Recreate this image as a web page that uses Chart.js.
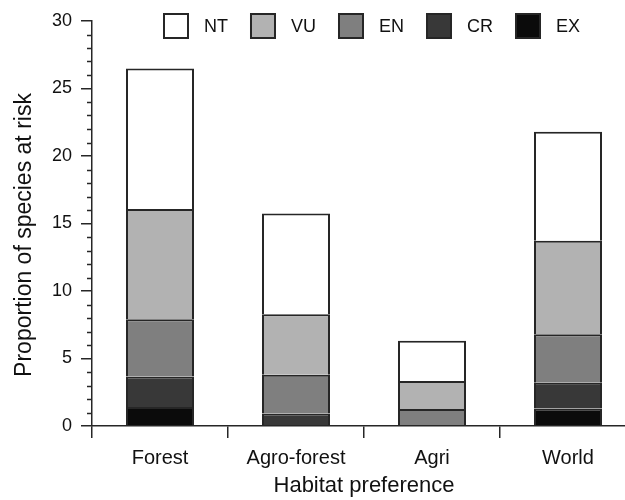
<!DOCTYPE html>
<html>
<head>
<meta charset="utf-8">
<script src="https://cdn.jsdelivr.net/npm/chart.js@4.4.1/dist/chart.umd.min.js"></script>
<style>
  html, body { margin: 0; padding: 0; background: #fff; overflow: hidden; }
  #wrap { width: 640px; height: 500px; }
</style>
</head>
<body>
<div id="wrap"><canvas id="chart" width="640" height="500"></canvas></div>
<script>
// values (segment heights, bottom to top)
const categories = ['Forest', 'Agro-forest', 'Agri', 'World'];
const exValues = [1.40, 0, 0, 1.30];
const crValues = [2.27, 0.93, 0, 1.90];
const enValues = [4.24, 2.87, 1.26, 3.60];
const vuValues = [8.16, 4.48, 2.07, 6.93];
const ntValues = [10.41, 7.47, 2.98, 8.06];
const yTicks = [0, 5, 10, 15, 20, 25, 30];

const edge = '#262626';
const font = 'Arial, "Liberation Sans", Helvetica, sans-serif';

// no bottom border: the segment below (or the axis) supplies that line
const mkSet = (label, data, color) => ({
    label, data, backgroundColor: color, borderColor: edge,
    borderWidth: { top: 2, left: 2, right: 2, bottom: 0 }, borderSkipped: false
});

// legend across the top + minor ticks + rotated y title
const extras = {
    id: 'extras',
    afterDraw(chart) {
        const ctx = chart.ctx;
        const y = chart.scales.y;
        ctx.save();

        // minor ticks every 1
        ctx.strokeStyle = edge;
        ctx.lineWidth = 1.5;
        for (let v = 0; v <= 30; v++) {
            if (v % 5 === 0) continue;
            const py = Math.round(y.getPixelForValue(v)) + 0.5;
            ctx.beginPath();
            ctx.moveTo(y.right - 5, py);
            ctx.lineTo(y.right, py);
            ctx.stroke();
        }

        // legend, NT first
        ctx.font = '18px ' + font;
        ctx.textBaseline = 'middle';
        ctx.textAlign = 'left';
        let x = 164;
        const cy = 26;
        chart.data.datasets.slice().reverse().forEach(ds => {
            ctx.fillStyle = ds.backgroundColor;
            ctx.fillRect(x, cy - 12, 24, 24);
            ctx.lineWidth = 2;
            ctx.strokeStyle = edge;
            ctx.strokeRect(x, cy - 12, 24, 24);
            ctx.fillStyle = '#111';
            ctx.fillText(ds.label, x + 40, cy + 1);
            x += 40 + ctx.measureText(ds.label).width + 23;
        });

        // y axis title
        ctx.translate(25, 235);
        ctx.rotate(-Math.PI / 2);
        ctx.textAlign = 'center';
        ctx.font = '23px ' + font;
        ctx.fillText('Proportion of species at risk', 0, 0);
        ctx.restore();
    }
};

new Chart(document.getElementById('chart'), {
    type: 'bar',
    data: {
        labels: categories,
        datasets: [
            mkSet('EX', exValues, '#0b0b0b'),
            mkSet('CR', crValues, '#383838'),
            mkSet('EN', enValues, '#7f7f7f'),
            mkSet('VU', vuValues, '#b2b2b2'),
            mkSet('NT', ntValues, '#ffffff')
        ]
    },
    options: {
        responsive: false,
        animation: false,
        layout: { padding: { top: 21, right: 4, left: 0, bottom: 0 } },
        datasets: { bar: { categoryPercentage: 1, barPercentage: 0.5 } },
        plugins: { legend: { display: false }, tooltip: { enabled: false } },
        scales: {
            x: {
                stacked: true,
                offset: true,
                grid: { offset: true, drawOnChartArea: false, tickLength: 12, color: edge, lineWidth: 1.5 },
                border: { color: edge, width: 1.5, z: 1 },
                ticks: { font: { size: 20, family: font }, color: '#111', padding: 8, maxRotation: 0 },
                title: {
                    display: true, text: 'Habitat preference', color: '#111',
                    font: { size: 22, family: font }, padding: { top: 0, bottom: 1 }
                },
                afterFit: s => { s.height = 74; }
            },
            y: {
                stacked: true,
                min: 0,
                max: 30,
                afterBuildTicks: s => { s.ticks = yTicks.map(v => ({ value: v })); },
                grid: { drawOnChartArea: false, tickLength: 11, color: edge, lineWidth: 1.5 },
                border: { color: edge, width: 1.5 },
                ticks: { font: { size: 18, family: font }, color: '#111', padding: 9 },
                afterFit: s => { s.width = 92; }
            }
        }
    },
    plugins: [extras]
});
</script>
</body>
</html>
